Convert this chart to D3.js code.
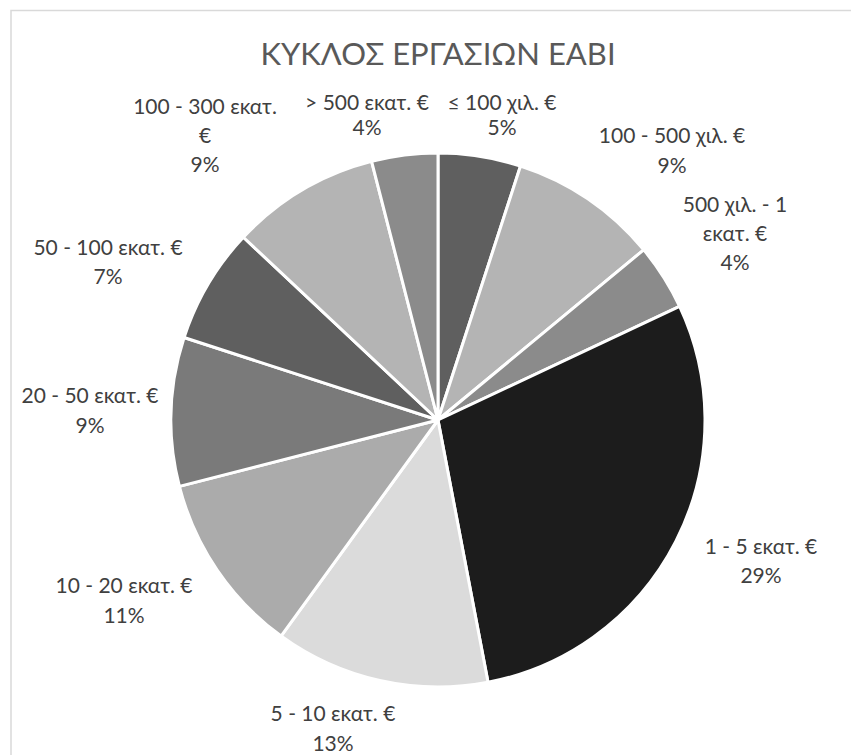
<!DOCTYPE html>
<html>
<head>
<meta charset="utf-8">
<script src="https://cdn.jsdelivr.net/npm/d3@7"></script>
<style>
  body { margin: 0; background: #fff; }
  text { font-family: Lato, "Noto Sans", sans-serif; }
</style>
</head>
<body>
<div id="chart"></div>
<script>
// turnover classes, clockwise from 12 o'clock
var categories = ["≤ 100 χιλ. €", "100 - 500 χιλ. €", "500 χιλ. - 1 εκατ. €", "1 - 5 εκατ. €",
                  "5 - 10 εκατ. €", "10 - 20 εκατ. €", "20 - 50 εκατ. €", "50 - 100 εκατ. €",
                  "100 - 300 εκατ. €", "> 500 εκατ. €"];
var values = [5, 9, 4, 29, 13, 11, 9, 7, 9, 4];
var grays = ["#5f5f5f", "#b4b4b4", "#8b8b8b", "#1c1c1c", "#dbdbdb",
             "#ababab", "#7a7a7a", "#5f5f5f", "#b4b4b4", "#8b8b8b"];

// how Excel wrapped the long labels
var wrapped = {
    "500 χιλ. - 1 εκατ. €": ["500 χιλ. - 1", "εκατ. €"],
    "100 - 300 εκατ. €": ["100 - 300 εκατ.", "€"]
};
// label anchor (centre x, first baseline) relative to pie centre, and line gap
var labelPos = [[64, -310, 25], [234, -277, 30], [297, -208, 29], [323, 134, 29],
                [-105, 301, 30], [-314, 173, 30], [-348, -17, 30], [-330, -165, 29],
                [-233, -306, 29], [-71, -310, 25]];

var width = 851, height = 755;
var cx = 438, cy = 420, radius = 267;

var svg = d3.select("#chart").append("svg")
    .attr("width", width)
    .attr("height", height);

svg.append("rect")
    .attr("x", 11).attr("y", 10.5)
    .attr("width", 900).attr("height", 900)
    .attr("fill", "none")
    .attr("stroke", "#d9d9d9")
    .attr("stroke-width", 1.5);

svg.append("text")
    .attr("x", cx)
    .attr("y", 65)
    .attr("text-anchor", "middle")
    .attr("fill", "#595959")
    .style("font-size", "31px")
    .text("ΚΥΚΛΟΣ ΕΡΓΑΣΙΩΝ ΕΑΒΙ");

var data = categories.map(function(c, i){ return {name: c, value: values[i], i: i}; });
var total = d3.sum(values);
var pct = d3.format(".0%");

var pie = d3.pie()
    .sort(null)
    .value(function(d){ return d.value; });

var arc = d3.arc()
    .innerRadius(0)
    .outerRadius(radius);

var g = svg.append("g")
    .attr("transform", "translate(" + cx + "," + cy + ")");

g.selectAll("path.slice")
    .data(pie(data))
    .enter().append("path")
    .attr("class", "slice")
    .attr("d", arc)
    .attr("fill", function(d){ return grays[d.data.i]; })
    .attr("stroke", "#fff")
    .attr("stroke-width", 3)
    .attr("stroke-linejoin", "round");

var labels = g.selectAll("text.lbl")
    .data(data)
    .enter().append("text")
    .attr("class", "lbl")
    .attr("text-anchor", "middle")
    .attr("fill", "#404040")
    .style("font-size", "21px");

labels.each(function(d){
    var p = labelPos[d.i];
    var lines = (wrapped[d.name] || [d.name]).concat([pct(d.value / total)]);
    var t = d3.select(this);
    lines.forEach(function(l, k){
        t.append("tspan")
            .attr("x", p[0])
            .attr("y", p[1] + k * p[2])
            .text(l);
    });
});
</script>
</body>
</html>
